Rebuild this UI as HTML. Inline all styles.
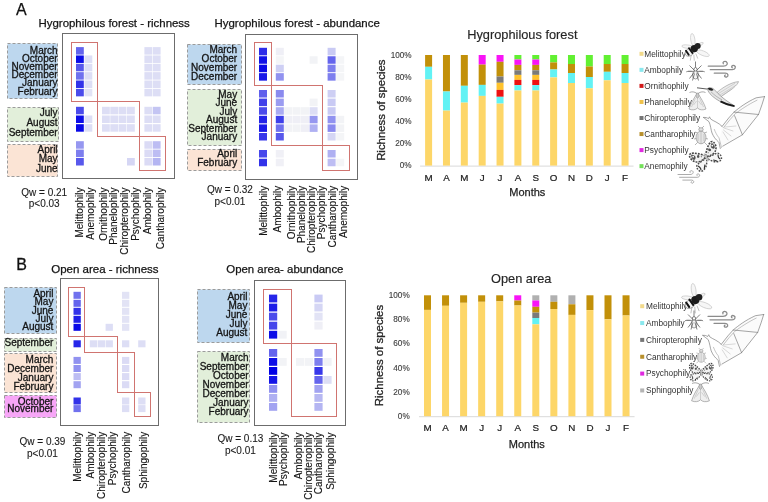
<!DOCTYPE html>
<html><head><meta charset="utf-8"><title>Pollination syndromes</title>
<style>html,body{margin:0;padding:0;background:#fff;} svg{display:block;}</style>
</head><body>
<svg width="768" height="502" viewBox="0 0 768 502" font-family="'Liberation Sans', Arial, sans-serif">
<rect width="768" height="502" fill="#fff"/>
<text x="16.0" y="15" font-size="16" text-anchor="start" fill="#111" stroke="#111" stroke-width="0.25" >A</text>
<text x="16.3" y="270" font-size="16" text-anchor="start" fill="#111" stroke="#111" stroke-width="0.3" >B</text>
<text x="38.5" y="27" font-size="11.45" text-anchor="start" fill="#141414" stroke="#141414" stroke-width="0.25" >Hygrophilous forest - richness</text>
<text x="214.5" y="27.2" font-size="11.45" text-anchor="start" fill="#141414" stroke="#141414" stroke-width="0.25" >Hygrophilous forest - abundance</text>
<text x="51.2" y="273" font-size="11.5" text-anchor="start" fill="#141414" stroke="#141414" stroke-width="0.25" >Open area - richness</text>
<text x="226.3" y="272.6" font-size="11.4" text-anchor="start" fill="#141414" stroke="#141414" stroke-width="0.25" >Open area- abundance</text>
<rect x="62.5" y="33.5" width="112.0" height="145.0" fill="#fff" stroke="#6c6c6c" stroke-width="1" />
<rect x="76" y="47.1" width="7.8" height="7.5" fill="rgb(100,100,237)" stroke="none" stroke-width="1" />
<rect x="144.4" y="47.1" width="7.8" height="7.5" fill="rgb(221,222,245)" stroke="none" stroke-width="1" />
<rect x="152.8" y="47.1" width="7.8" height="7.5" fill="rgb(221,222,245)" stroke="none" stroke-width="1" />
<rect x="76" y="55.45" width="7.8" height="7.5" fill="rgb(13,13,231)" stroke="none" stroke-width="1" />
<rect x="84.5" y="55.45" width="7.8" height="7.5" fill="rgb(221,222,245)" stroke="none" stroke-width="1" />
<rect x="144.4" y="55.45" width="7.8" height="7.5" fill="rgb(221,222,245)" stroke="none" stroke-width="1" />
<rect x="152.8" y="55.45" width="7.8" height="7.5" fill="rgb(221,222,245)" stroke="none" stroke-width="1" />
<rect x="76" y="63.8" width="7.8" height="7.5" fill="rgb(88,88,236)" stroke="none" stroke-width="1" />
<rect x="84.5" y="63.8" width="7.8" height="7.5" fill="rgb(221,222,245)" stroke="none" stroke-width="1" />
<rect x="144.4" y="63.8" width="7.8" height="7.5" fill="rgb(221,222,245)" stroke="none" stroke-width="1" />
<rect x="152.8" y="63.8" width="7.8" height="7.5" fill="rgb(221,222,245)" stroke="none" stroke-width="1" />
<rect x="76" y="72.15" width="7.8" height="7.5" fill="rgb(112,113,238)" stroke="none" stroke-width="1" />
<rect x="84.5" y="72.15" width="7.8" height="7.5" fill="rgb(221,222,245)" stroke="none" stroke-width="1" />
<rect x="144.4" y="72.15" width="7.8" height="7.5" fill="rgb(221,222,245)" stroke="none" stroke-width="1" />
<rect x="152.8" y="72.15" width="7.8" height="7.5" fill="rgb(221,222,245)" stroke="none" stroke-width="1" />
<rect x="76" y="80.5" width="7.8" height="7.5" fill="rgb(50,50,233)" stroke="none" stroke-width="1" />
<rect x="84.5" y="80.5" width="7.8" height="7.5" fill="rgb(221,222,245)" stroke="none" stroke-width="1" />
<rect x="144.4" y="80.5" width="7.8" height="7.5" fill="rgb(221,222,245)" stroke="none" stroke-width="1" />
<rect x="152.8" y="80.5" width="7.8" height="7.5" fill="rgb(221,222,245)" stroke="none" stroke-width="1" />
<rect x="76" y="88.85" width="7.8" height="7.5" fill="rgb(75,75,235)" stroke="none" stroke-width="1" />
<rect x="84.5" y="88.85" width="7.8" height="7.5" fill="rgb(226,227,245)" stroke="none" stroke-width="1" />
<rect x="144.4" y="88.85" width="7.8" height="7.5" fill="rgb(221,222,245)" stroke="none" stroke-width="1" />
<rect x="152.8" y="88.85" width="7.8" height="7.5" fill="rgb(221,222,245)" stroke="none" stroke-width="1" />
<rect x="76" y="106.8" width="7.8" height="7.5" fill="rgb(75,75,235)" stroke="none" stroke-width="1" />
<rect x="102" y="106.8" width="7.8" height="7.5" fill="rgb(221,222,245)" stroke="none" stroke-width="1" />
<rect x="110.3" y="106.8" width="7.8" height="7.5" fill="rgb(221,222,245)" stroke="none" stroke-width="1" />
<rect x="118.6" y="106.8" width="7.8" height="7.5" fill="rgb(221,222,245)" stroke="none" stroke-width="1" />
<rect x="127" y="106.8" width="7.8" height="7.5" fill="rgb(221,222,245)" stroke="none" stroke-width="1" />
<rect x="144.4" y="106.8" width="7.8" height="7.5" fill="rgb(221,222,245)" stroke="none" stroke-width="1" />
<rect x="152.8" y="106.8" width="7.8" height="7.5" fill="rgb(196,197,243)" stroke="none" stroke-width="1" />
<rect x="76" y="115.5" width="7.8" height="7.5" fill="rgb(13,13,231)" stroke="none" stroke-width="1" />
<rect x="84.5" y="115.5" width="7.8" height="7.5" fill="rgb(221,222,245)" stroke="none" stroke-width="1" />
<rect x="102" y="115.5" width="7.8" height="7.5" fill="rgb(221,222,245)" stroke="none" stroke-width="1" />
<rect x="110.3" y="115.5" width="7.8" height="7.5" fill="rgb(221,222,245)" stroke="none" stroke-width="1" />
<rect x="118.6" y="115.5" width="7.8" height="7.5" fill="rgb(221,222,245)" stroke="none" stroke-width="1" />
<rect x="127" y="115.5" width="7.8" height="7.5" fill="rgb(221,222,245)" stroke="none" stroke-width="1" />
<rect x="144.4" y="115.5" width="7.8" height="7.5" fill="rgb(221,222,245)" stroke="none" stroke-width="1" />
<rect x="152.8" y="115.5" width="7.8" height="7.5" fill="rgb(221,222,245)" stroke="none" stroke-width="1" />
<rect x="76" y="124.2" width="7.8" height="7.5" fill="rgb(8,8,231)" stroke="none" stroke-width="1" />
<rect x="84.5" y="124.2" width="7.8" height="7.5" fill="rgb(221,222,245)" stroke="none" stroke-width="1" />
<rect x="102" y="124.2" width="7.8" height="7.5" fill="rgb(221,222,245)" stroke="none" stroke-width="1" />
<rect x="110.3" y="124.2" width="7.8" height="7.5" fill="rgb(221,222,245)" stroke="none" stroke-width="1" />
<rect x="118.6" y="124.2" width="7.8" height="7.5" fill="rgb(221,222,245)" stroke="none" stroke-width="1" />
<rect x="127" y="124.2" width="7.8" height="7.5" fill="rgb(221,222,245)" stroke="none" stroke-width="1" />
<rect x="144.4" y="124.2" width="7.8" height="7.5" fill="rgb(221,222,245)" stroke="none" stroke-width="1" />
<rect x="152.8" y="124.2" width="7.8" height="7.5" fill="rgb(221,222,245)" stroke="none" stroke-width="1" />
<rect x="76" y="141.2" width="7.8" height="7.5" fill="rgb(150,151,240)" stroke="none" stroke-width="1" />
<rect x="144.4" y="141.2" width="7.8" height="7.5" fill="rgb(219,219,245)" stroke="none" stroke-width="1" />
<rect x="152.8" y="141.2" width="7.8" height="7.5" fill="rgb(189,189,243)" stroke="none" stroke-width="1" />
<rect x="76" y="149.6" width="7.8" height="7.5" fill="rgb(125,126,238)" stroke="none" stroke-width="1" />
<rect x="144.4" y="149.6" width="7.8" height="7.5" fill="rgb(219,219,245)" stroke="none" stroke-width="1" />
<rect x="152.8" y="149.6" width="7.8" height="7.5" fill="rgb(189,189,243)" stroke="none" stroke-width="1" />
<rect x="76" y="158.0" width="7.8" height="7.5" fill="rgb(88,88,236)" stroke="none" stroke-width="1" />
<rect x="127" y="158.0" width="7.8" height="7.5" fill="rgb(213,214,244)" stroke="none" stroke-width="1" />
<rect x="144.4" y="158.0" width="7.8" height="7.5" fill="rgb(219,219,245)" stroke="none" stroke-width="1" />
<rect x="152.8" y="158.0" width="7.8" height="7.5" fill="rgb(180,181,242)" stroke="none" stroke-width="1" />
<rect x="71.5" y="42.5" width="26.0" height="59.0" fill="none" stroke="#d07470" stroke-width="1" />
<rect x="97.5" y="101.5" width="42.0" height="35.0" fill="none" stroke="#d07470" stroke-width="1" />
<rect x="139.5" y="136.5" width="26.0" height="34.0" fill="none" stroke="#d07470" stroke-width="1" />
<rect x="7.5" y="43.5" width="50.0" height="55.0" fill="#bdd7ee" stroke="#9b9b9b" stroke-width="1" stroke-dasharray="3,2"/>
<text x="57.6" y="53.6" font-size="10" text-anchor="end" fill="#141414" stroke="#141414" stroke-width="0.3" >March</text>
<text x="57.6" y="61.8" font-size="10" text-anchor="end" fill="#141414" stroke="#141414" stroke-width="0.3" >October</text>
<text x="57.6" y="70.0" font-size="10" text-anchor="end" fill="#141414" stroke="#141414" stroke-width="0.3" >November</text>
<text x="57.6" y="78.2" font-size="10" text-anchor="end" fill="#141414" stroke="#141414" stroke-width="0.3" >December</text>
<text x="57.6" y="86.4" font-size="10" text-anchor="end" fill="#141414" stroke="#141414" stroke-width="0.3" >January</text>
<text x="57.6" y="94.6" font-size="10" text-anchor="end" fill="#141414" stroke="#141414" stroke-width="0.3" >February</text>
<rect x="7.5" y="107.5" width="51.0" height="34.0" fill="#e2efda" stroke="#9b9b9b" stroke-width="1" stroke-dasharray="3,2"/>
<text x="57.6" y="115.8" font-size="10" text-anchor="end" fill="#141414" stroke="#141414" stroke-width="0.3" >July</text>
<text x="57.6" y="125.8" font-size="10" text-anchor="end" fill="#141414" stroke="#141414" stroke-width="0.3" >August</text>
<text x="57.6" y="135.8" font-size="10" text-anchor="end" fill="#141414" stroke="#141414" stroke-width="0.3" >September</text>
<rect x="7.5" y="144.5" width="50.0" height="32.0" fill="#fbe4d5" stroke="#9b9b9b" stroke-width="1" stroke-dasharray="3,2"/>
<text x="57.6" y="152.9" font-size="10" text-anchor="end" fill="#141414" stroke="#141414" stroke-width="0.3" >April</text>
<text x="57.6" y="162.2" font-size="10" text-anchor="end" fill="#141414" stroke="#141414" stroke-width="0.3" >May</text>
<text x="57.6" y="171.5" font-size="10" text-anchor="end" fill="#141414" stroke="#141414" stroke-width="0.3" >June</text>
<text font-size="10" text-anchor="end" fill="#141414" stroke="#141414" stroke-width="0.12" transform="translate(83.1,187.5) rotate(-90)">Melittophily</text>
<text font-size="10" text-anchor="end" fill="#141414" stroke="#141414" stroke-width="0.12" transform="translate(94.4,187.5) rotate(-90)">Anemophily</text>
<text font-size="10" text-anchor="end" fill="#141414" stroke="#141414" stroke-width="0.12" transform="translate(107.1,187.5) rotate(-90)">Ornithophily</text>
<text font-size="10" text-anchor="end" fill="#141414" stroke="#141414" stroke-width="0.12" transform="translate(117.3,187.5) rotate(-90)">Phanelophily</text>
<text font-size="10" text-anchor="end" fill="#141414" stroke="#141414" stroke-width="0.12" transform="translate(128.1,187.5) rotate(-90)">Chiropterophily</text>
<text font-size="10" text-anchor="end" fill="#141414" stroke="#141414" stroke-width="0.12" transform="translate(138.5,187.5) rotate(-90)">Psychophily</text>
<text font-size="10" text-anchor="end" fill="#141414" stroke="#141414" stroke-width="0.12" transform="translate(151.3,187.5) rotate(-90)">Ambophily</text>
<text font-size="10" text-anchor="end" fill="#141414" stroke="#141414" stroke-width="0.12" transform="translate(163.8,187.5) rotate(-90)">Cantharophily</text>
<text x="44.2" y="195.5" font-size="10" text-anchor="middle" fill="#1a1a1a" stroke="#1a1a1a" stroke-width="0.1" >Qw = 0.21</text>
<text x="44.2" y="207.4" font-size="10" text-anchor="middle" fill="#1a1a1a" stroke="#1a1a1a" stroke-width="0.1" >p<0.03</text>
<rect x="245.5" y="34.5" width="112.0" height="145.0" fill="#fff" stroke="#6c6c6c" stroke-width="1" />
<rect x="259" y="47.8" width="8" height="7.5" fill="rgb(45,45,233)" stroke="none" stroke-width="1" />
<rect x="275.8" y="47.8" width="8" height="7.5" fill="rgb(239,239,246)" stroke="none" stroke-width="1" />
<rect x="327.6" y="47.8" width="8" height="7.5" fill="rgb(201,202,244)" stroke="none" stroke-width="1" />
<rect x="259" y="56.25" width="8" height="7.5" fill="rgb(17,18,231)" stroke="none" stroke-width="1" />
<rect x="275.8" y="56.25" width="8" height="7.5" fill="rgb(244,245,247)" stroke="none" stroke-width="1" />
<rect x="309.6" y="56.25" width="8" height="7.5" fill="rgb(242,243,246)" stroke="none" stroke-width="1" />
<rect x="327.6" y="56.25" width="8" height="7.5" fill="rgb(100,100,237)" stroke="none" stroke-width="1" />
<rect x="336.2" y="56.25" width="8" height="7.5" fill="rgb(244,245,247)" stroke="none" stroke-width="1" />
<rect x="259" y="64.7" width="8" height="7.5" fill="rgb(10,10,231)" stroke="none" stroke-width="1" />
<rect x="275.8" y="64.7" width="8" height="7.5" fill="rgb(206,207,244)" stroke="none" stroke-width="1" />
<rect x="327.6" y="64.7" width="8" height="7.5" fill="rgb(125,126,238)" stroke="none" stroke-width="1" />
<rect x="336.2" y="64.7" width="8" height="7.5" fill="rgb(244,245,247)" stroke="none" stroke-width="1" />
<rect x="259" y="73.15" width="8" height="7.5" fill="rgb(25,25,232)" stroke="none" stroke-width="1" />
<rect x="275.8" y="73.15" width="8" height="7.5" fill="rgb(145,146,240)" stroke="none" stroke-width="1" />
<rect x="327.6" y="73.15" width="8" height="7.5" fill="rgb(125,126,238)" stroke="none" stroke-width="1" />
<rect x="336.2" y="73.15" width="8" height="7.5" fill="rgb(244,245,247)" stroke="none" stroke-width="1" />
<rect x="259" y="90.0" width="8" height="7.5" fill="rgb(95,95,236)" stroke="none" stroke-width="1" />
<rect x="275.8" y="90.0" width="8" height="7.5" fill="rgb(138,138,239)" stroke="none" stroke-width="1" />
<rect x="327.6" y="90.0" width="8" height="7.5" fill="rgb(206,207,244)" stroke="none" stroke-width="1" />
<rect x="259" y="98.6" width="8" height="7.5" fill="rgb(65,65,234)" stroke="none" stroke-width="1" />
<rect x="275.8" y="98.6" width="8" height="7.5" fill="rgb(155,156,241)" stroke="none" stroke-width="1" />
<rect x="309.6" y="98.6" width="8" height="7.5" fill="rgb(242,243,246)" stroke="none" stroke-width="1" />
<rect x="327.6" y="98.6" width="8" height="7.5" fill="rgb(201,202,244)" stroke="none" stroke-width="1" />
<rect x="259" y="107.2" width="8" height="7.5" fill="rgb(75,75,235)" stroke="none" stroke-width="1" />
<rect x="275.8" y="107.2" width="8" height="7.5" fill="rgb(170,171,242)" stroke="none" stroke-width="1" />
<rect x="284.2" y="107.2" width="8" height="7.5" fill="rgb(242,243,246)" stroke="none" stroke-width="1" />
<rect x="292.6" y="107.2" width="8" height="7.5" fill="rgb(242,243,246)" stroke="none" stroke-width="1" />
<rect x="301" y="107.2" width="8" height="7.5" fill="rgb(242,243,246)" stroke="none" stroke-width="1" />
<rect x="309.6" y="107.2" width="8" height="7.5" fill="rgb(221,222,245)" stroke="none" stroke-width="1" />
<rect x="327.6" y="107.2" width="8" height="7.5" fill="rgb(201,202,244)" stroke="none" stroke-width="1" />
<rect x="259" y="115.8" width="8" height="7.5" fill="rgb(35,35,232)" stroke="none" stroke-width="1" />
<rect x="275.8" y="115.8" width="8" height="7.5" fill="rgb(62,63,234)" stroke="none" stroke-width="1" />
<rect x="284.2" y="115.8" width="8" height="7.5" fill="rgb(239,239,246)" stroke="none" stroke-width="1" />
<rect x="292.6" y="115.8" width="8" height="7.5" fill="rgb(239,239,246)" stroke="none" stroke-width="1" />
<rect x="301" y="115.8" width="8" height="7.5" fill="rgb(239,239,246)" stroke="none" stroke-width="1" />
<rect x="309.6" y="115.8" width="8" height="7.5" fill="rgb(150,151,240)" stroke="none" stroke-width="1" />
<rect x="327.6" y="115.8" width="8" height="7.5" fill="rgb(145,146,240)" stroke="none" stroke-width="1" />
<rect x="336.2" y="115.8" width="8" height="7.5" fill="rgb(242,243,246)" stroke="none" stroke-width="1" />
<rect x="259" y="124.4" width="8" height="7.5" fill="rgb(25,25,232)" stroke="none" stroke-width="1" />
<rect x="275.8" y="124.4" width="8" height="7.5" fill="rgb(112,113,238)" stroke="none" stroke-width="1" />
<rect x="284.2" y="124.4" width="8" height="7.5" fill="rgb(242,243,246)" stroke="none" stroke-width="1" />
<rect x="292.6" y="124.4" width="8" height="7.5" fill="rgb(242,243,246)" stroke="none" stroke-width="1" />
<rect x="301" y="124.4" width="8" height="7.5" fill="rgb(239,239,246)" stroke="none" stroke-width="1" />
<rect x="309.6" y="124.4" width="8" height="7.5" fill="rgb(175,176,242)" stroke="none" stroke-width="1" />
<rect x="327.6" y="124.4" width="8" height="7.5" fill="rgb(138,138,239)" stroke="none" stroke-width="1" />
<rect x="336.2" y="124.4" width="8" height="7.5" fill="rgb(242,243,246)" stroke="none" stroke-width="1" />
<rect x="259" y="133.0" width="8" height="7.5" fill="rgb(55,55,234)" stroke="none" stroke-width="1" />
<rect x="275.8" y="133.0" width="8" height="7.5" fill="rgb(88,88,236)" stroke="none" stroke-width="1" />
<rect x="327.6" y="133.0" width="8" height="7.5" fill="rgb(213,214,244)" stroke="none" stroke-width="1" />
<rect x="336.2" y="133.0" width="8" height="7.5" fill="rgb(244,245,247)" stroke="none" stroke-width="1" />
<rect x="259" y="150.0" width="8" height="7.5" fill="rgb(70,70,235)" stroke="none" stroke-width="1" />
<rect x="275.8" y="150.0" width="8" height="7.5" fill="rgb(240,240,246)" stroke="none" stroke-width="1" />
<rect x="327.6" y="150.0" width="8" height="7.5" fill="rgb(175,176,242)" stroke="none" stroke-width="1" />
<rect x="259" y="158.75" width="8" height="7.5" fill="rgb(50,50,233)" stroke="none" stroke-width="1" />
<rect x="275.8" y="158.75" width="8" height="7.5" fill="rgb(240,240,246)" stroke="none" stroke-width="1" />
<rect x="327.6" y="158.75" width="8" height="7.5" fill="rgb(189,189,243)" stroke="none" stroke-width="1" />
<rect x="336.2" y="158.75" width="8" height="7.5" fill="rgb(244,245,247)" stroke="none" stroke-width="1" />
<rect x="254.5" y="42.5" width="17.0" height="43.0" fill="none" stroke="#d07470" stroke-width="1" />
<rect x="271.5" y="85.5" width="51.0" height="60.0" fill="none" stroke="#d07470" stroke-width="1" />
<rect x="322.5" y="145.5" width="27.0" height="25.0" fill="none" stroke="#d07470" stroke-width="1" />
<rect x="187.5" y="44.5" width="54.0" height="40.0" fill="#bdd7ee" stroke="#9b9b9b" stroke-width="1" stroke-dasharray="3,2"/>
<text x="237.2" y="53.3" font-size="10" text-anchor="end" fill="#141414" stroke="#141414" stroke-width="0.3" >March</text>
<text x="237.2" y="62.05" font-size="10" text-anchor="end" fill="#141414" stroke="#141414" stroke-width="0.3" >October</text>
<text x="237.2" y="70.8" font-size="10" text-anchor="end" fill="#141414" stroke="#141414" stroke-width="0.3" >November</text>
<text x="237.2" y="79.55" font-size="10" text-anchor="end" fill="#141414" stroke="#141414" stroke-width="0.3" >December</text>
<rect x="187.5" y="89.5" width="54.0" height="56.0" fill="#e2efda" stroke="#9b9b9b" stroke-width="1" stroke-dasharray="3,2"/>
<text x="237.2" y="97.5" font-size="10" text-anchor="end" fill="#141414" stroke="#141414" stroke-width="0.3" >May</text>
<text x="237.2" y="106.0" font-size="10" text-anchor="end" fill="#141414" stroke="#141414" stroke-width="0.3" >June</text>
<text x="237.2" y="114.5" font-size="10" text-anchor="end" fill="#141414" stroke="#141414" stroke-width="0.3" >July</text>
<text x="237.2" y="123.0" font-size="10" text-anchor="end" fill="#141414" stroke="#141414" stroke-width="0.3" >August</text>
<text x="237.2" y="131.5" font-size="10" text-anchor="end" fill="#141414" stroke="#141414" stroke-width="0.3" >September</text>
<text x="237.2" y="140.0" font-size="10" text-anchor="end" fill="#141414" stroke="#141414" stroke-width="0.3" >January</text>
<rect x="187.5" y="149.5" width="54.0" height="21.0" fill="#fbe4d5" stroke="#9b9b9b" stroke-width="1" stroke-dasharray="3,2"/>
<text x="237.2" y="157.0" font-size="10" text-anchor="end" fill="#141414" stroke="#141414" stroke-width="0.3" >April</text>
<text x="237.2" y="165.5" font-size="10" text-anchor="end" fill="#141414" stroke="#141414" stroke-width="0.3" >February</text>
<text font-size="10" text-anchor="end" fill="#141414" stroke="#141414" stroke-width="0.12" transform="translate(267.3,185.8) rotate(-90)">Melittophily</text>
<text font-size="10" text-anchor="end" fill="#141414" stroke="#141414" stroke-width="0.12" transform="translate(281.4,185.8) rotate(-90)">Ambophily</text>
<text font-size="10" text-anchor="end" fill="#141414" stroke="#141414" stroke-width="0.12" transform="translate(294.5,185.8) rotate(-90)">Ornithophily</text>
<text font-size="10" text-anchor="end" fill="#141414" stroke="#141414" stroke-width="0.12" transform="translate(304.5,185.8) rotate(-90)">Phanelophily</text>
<text font-size="10" text-anchor="end" fill="#141414" stroke="#141414" stroke-width="0.12" transform="translate(315.1,185.8) rotate(-90)">Chiropterophily</text>
<text font-size="10" text-anchor="end" fill="#141414" stroke="#141414" stroke-width="0.12" transform="translate(325.1,185.8) rotate(-90)">Psychophily</text>
<text font-size="10" text-anchor="end" fill="#141414" stroke="#141414" stroke-width="0.12" transform="translate(336,185.8) rotate(-90)">Cantharophily</text>
<text font-size="10" text-anchor="end" fill="#141414" stroke="#141414" stroke-width="0.12" transform="translate(346.8,185.8) rotate(-90)">Anemophily</text>
<text x="230" y="193.2" font-size="10" text-anchor="middle" fill="#1a1a1a" stroke="#1a1a1a" stroke-width="0.1" >Qw = 0.32</text>
<text x="230" y="205.1" font-size="10" text-anchor="middle" fill="#1a1a1a" stroke="#1a1a1a" stroke-width="0.1" >p<0.01</text>
<rect x="60.5" y="278.5" width="98.0" height="147.0" fill="#fff" stroke="#6c6c6c" stroke-width="1" />
<rect x="73.5" y="291.8" width="7.3" height="7.0" fill="rgb(112,113,238)" stroke="none" stroke-width="1" />
<rect x="122" y="291.8" width="7.3" height="7.0" fill="rgb(226,227,245)" stroke="none" stroke-width="1" />
<rect x="73.5" y="299.8" width="7.3" height="7.0" fill="rgb(100,100,237)" stroke="none" stroke-width="1" />
<rect x="122" y="299.8" width="7.3" height="7.0" fill="rgb(226,227,245)" stroke="none" stroke-width="1" />
<rect x="73.5" y="307.8" width="7.3" height="7.0" fill="rgb(50,50,233)" stroke="none" stroke-width="1" />
<rect x="122" y="307.8" width="7.3" height="7.0" fill="rgb(226,227,245)" stroke="none" stroke-width="1" />
<rect x="73.5" y="315.8" width="7.3" height="7.0" fill="rgb(30,30,232)" stroke="none" stroke-width="1" />
<rect x="122" y="315.8" width="7.3" height="7.0" fill="rgb(226,227,245)" stroke="none" stroke-width="1" />
<rect x="73.5" y="323.8" width="7.3" height="7.0" fill="rgb(8,8,231)" stroke="none" stroke-width="1" />
<rect x="105.6" y="323.8" width="7.3" height="7.0" fill="rgb(221,222,245)" stroke="none" stroke-width="1" />
<rect x="122" y="323.8" width="7.3" height="7.0" fill="rgb(226,227,245)" stroke="none" stroke-width="1" />
<rect x="73.5" y="340.3" width="7.3" height="7.0" fill="rgb(38,38,233)" stroke="none" stroke-width="1" />
<rect x="89.8" y="340.3" width="7.3" height="7.0" fill="rgb(221,222,245)" stroke="none" stroke-width="1" />
<rect x="97.7" y="340.3" width="7.3" height="7.0" fill="rgb(221,222,245)" stroke="none" stroke-width="1" />
<rect x="105.6" y="340.3" width="7.3" height="7.0" fill="rgb(221,222,245)" stroke="none" stroke-width="1" />
<rect x="122" y="340.3" width="7.3" height="7.0" fill="rgb(221,222,245)" stroke="none" stroke-width="1" />
<rect x="138.2" y="340.3" width="7.3" height="7.0" fill="rgb(221,222,245)" stroke="none" stroke-width="1" />
<rect x="73.5" y="356.9" width="7.3" height="7.0" fill="rgb(145,146,240)" stroke="none" stroke-width="1" />
<rect x="122" y="356.9" width="7.3" height="7.0" fill="rgb(219,219,245)" stroke="none" stroke-width="1" />
<rect x="73.5" y="365.0" width="7.3" height="7.0" fill="rgb(145,146,240)" stroke="none" stroke-width="1" />
<rect x="122" y="365.0" width="7.3" height="7.0" fill="rgb(219,219,245)" stroke="none" stroke-width="1" />
<rect x="73.5" y="373.1" width="7.3" height="7.0" fill="rgb(189,189,243)" stroke="none" stroke-width="1" />
<rect x="122" y="373.1" width="7.3" height="7.0" fill="rgb(219,219,245)" stroke="none" stroke-width="1" />
<rect x="73.5" y="381.2" width="7.3" height="7.0" fill="rgb(162,163,241)" stroke="none" stroke-width="1" />
<rect x="122" y="381.2" width="7.3" height="7.0" fill="rgb(219,219,245)" stroke="none" stroke-width="1" />
<rect x="73.5" y="397.5" width="7.3" height="7.0" fill="rgb(50,50,233)" stroke="none" stroke-width="1" />
<rect x="122" y="397.5" width="7.3" height="7.0" fill="rgb(221,222,245)" stroke="none" stroke-width="1" />
<rect x="138.2" y="397.5" width="7.3" height="7.0" fill="rgb(221,222,245)" stroke="none" stroke-width="1" />
<rect x="73.5" y="405.1" width="7.3" height="7.0" fill="rgb(112,113,238)" stroke="none" stroke-width="1" />
<rect x="122" y="405.1" width="7.3" height="7.0" fill="rgb(221,222,245)" stroke="none" stroke-width="1" />
<rect x="138.2" y="405.1" width="7.3" height="7.0" fill="rgb(221,222,245)" stroke="none" stroke-width="1" />
<rect x="68.5" y="287.5" width="16.0" height="49.0" fill="none" stroke="#d07470" stroke-width="1" />
<rect x="84.5" y="336.5" width="33.0" height="16.0" fill="none" stroke="#d07470" stroke-width="1" />
<rect x="117.5" y="352.5" width="17.0" height="40.0" fill="none" stroke="#d07470" stroke-width="1" />
<rect x="134.5" y="392.5" width="16.0" height="24.0" fill="none" stroke="#d07470" stroke-width="1" />
<rect x="4.5" y="287.5" width="52.0" height="46.0" fill="#bdd7ee" stroke="#9b9b9b" stroke-width="1" stroke-dasharray="3,2"/>
<text x="53.4" y="297.0" font-size="10" text-anchor="end" fill="#141414" stroke="#141414" stroke-width="0.3" >April</text>
<text x="53.4" y="305.25" font-size="10" text-anchor="end" fill="#141414" stroke="#141414" stroke-width="0.3" >May</text>
<text x="53.4" y="313.5" font-size="10" text-anchor="end" fill="#141414" stroke="#141414" stroke-width="0.3" >June</text>
<text x="53.4" y="321.75" font-size="10" text-anchor="end" fill="#141414" stroke="#141414" stroke-width="0.3" >July</text>
<text x="53.4" y="330.0" font-size="10" text-anchor="end" fill="#141414" stroke="#141414" stroke-width="0.3" >August</text>
<rect x="4.5" y="338.5" width="52.0" height="13.0" fill="#e2efda" stroke="#9b9b9b" stroke-width="1" stroke-dasharray="3,2"/>
<text x="53.4" y="346.3" font-size="10" text-anchor="end" fill="#141414" stroke="#141414" stroke-width="0.3" >September</text>
<rect x="4.5" y="353.5" width="52.0" height="39.0" fill="#fbe4d5" stroke="#9b9b9b" stroke-width="1" stroke-dasharray="3,2"/>
<text x="53.4" y="362.5" font-size="10" text-anchor="end" fill="#141414" stroke="#141414" stroke-width="0.3" >March</text>
<text x="53.4" y="371.5" font-size="10" text-anchor="end" fill="#141414" stroke="#141414" stroke-width="0.3" >December</text>
<text x="53.4" y="380.5" font-size="10" text-anchor="end" fill="#141414" stroke="#141414" stroke-width="0.3" >January</text>
<text x="53.4" y="389.5" font-size="10" text-anchor="end" fill="#141414" stroke="#141414" stroke-width="0.3" >February</text>
<rect x="4.5" y="395.5" width="52.0" height="22.0" fill="#f7a6f7" stroke="#9b9b9b" stroke-width="1" stroke-dasharray="3,2"/>
<text x="53.4" y="404.5" font-size="10" text-anchor="end" fill="#141414" stroke="#141414" stroke-width="0.3" >October</text>
<text x="53.4" y="412.0" font-size="10" text-anchor="end" fill="#141414" stroke="#141414" stroke-width="0.3" >November</text>
<text font-size="10" text-anchor="end" fill="#141414" stroke="#141414" stroke-width="0.12" transform="translate(81.4,431.8) rotate(-90)">Melittophily</text>
<text font-size="10" text-anchor="end" fill="#141414" stroke="#141414" stroke-width="0.12" transform="translate(94.3,431.8) rotate(-90)">Ambophily</text>
<text font-size="10" text-anchor="end" fill="#141414" stroke="#141414" stroke-width="0.12" transform="translate(105.1,431.8) rotate(-90)">Chiropterophily</text>
<text font-size="10" text-anchor="end" fill="#141414" stroke="#141414" stroke-width="0.12" transform="translate(115.5,431.8) rotate(-90)">Psychophily</text>
<text font-size="10" text-anchor="end" fill="#141414" stroke="#141414" stroke-width="0.12" transform="translate(130.1,431.8) rotate(-90)">Cantharophily</text>
<text font-size="10" text-anchor="end" fill="#141414" stroke="#141414" stroke-width="0.12" transform="translate(147,431.8) rotate(-90)">Sphingophily</text>
<text x="42.5" y="445.2" font-size="10" text-anchor="middle" fill="#1a1a1a" stroke="#1a1a1a" stroke-width="0.1" >Qw = 0.39</text>
<text x="42.5" y="457.1" font-size="10" text-anchor="middle" fill="#1a1a1a" stroke="#1a1a1a" stroke-width="0.1" >p<0.01</text>
<rect x="254.5" y="280.5" width="91.0" height="145.0" fill="#fff" stroke="#6c6c6c" stroke-width="1" />
<rect x="269" y="294.6" width="8.2" height="7.8" fill="rgb(38,38,233)" stroke="none" stroke-width="1" />
<rect x="314.4" y="294.6" width="8.2" height="7.8" fill="rgb(201,202,244)" stroke="none" stroke-width="1" />
<rect x="269" y="303.65" width="8.2" height="7.8" fill="rgb(30,30,232)" stroke="none" stroke-width="1" />
<rect x="314.4" y="303.65" width="8.2" height="7.8" fill="rgb(213,214,244)" stroke="none" stroke-width="1" />
<rect x="269" y="312.7" width="8.2" height="7.8" fill="rgb(75,75,235)" stroke="none" stroke-width="1" />
<rect x="314.4" y="312.7" width="8.2" height="7.8" fill="rgb(226,227,245)" stroke="none" stroke-width="1" />
<rect x="269" y="321.75" width="8.2" height="7.8" fill="rgb(70,70,235)" stroke="none" stroke-width="1" />
<rect x="314.4" y="321.75" width="8.2" height="7.8" fill="rgb(239,239,246)" stroke="none" stroke-width="1" />
<rect x="269" y="330.8" width="8.2" height="7.8" fill="rgb(13,13,231)" stroke="none" stroke-width="1" />
<rect x="278.5" y="330.8" width="8.2" height="7.8" fill="rgb(241,242,246)" stroke="none" stroke-width="1" />
<rect x="269" y="349.0" width="8.2" height="7.8" fill="rgb(100,100,237)" stroke="none" stroke-width="1" />
<rect x="314.4" y="349.0" width="8.2" height="7.8" fill="rgb(145,146,240)" stroke="none" stroke-width="1" />
<rect x="269" y="358.0" width="8.2" height="7.8" fill="rgb(13,13,231)" stroke="none" stroke-width="1" />
<rect x="278.5" y="358.0" width="8.2" height="7.8" fill="rgb(242,243,246)" stroke="none" stroke-width="1" />
<rect x="296" y="358.0" width="8.2" height="7.8" fill="rgb(242,243,246)" stroke="none" stroke-width="1" />
<rect x="304.8" y="358.0" width="8.2" height="7.8" fill="rgb(242,243,246)" stroke="none" stroke-width="1" />
<rect x="314.4" y="358.0" width="8.2" height="7.8" fill="rgb(125,126,238)" stroke="none" stroke-width="1" />
<rect x="323.4" y="358.0" width="8.2" height="7.8" fill="rgb(241,242,246)" stroke="none" stroke-width="1" />
<rect x="269" y="367.0" width="8.2" height="7.8" fill="rgb(0,0,230)" stroke="none" stroke-width="1" />
<rect x="314.4" y="367.0" width="8.2" height="7.8" fill="rgb(55,55,234)" stroke="none" stroke-width="1" />
<rect x="269" y="376.0" width="8.2" height="7.8" fill="rgb(20,20,231)" stroke="none" stroke-width="1" />
<rect x="314.4" y="376.0" width="8.2" height="7.8" fill="rgb(100,100,237)" stroke="none" stroke-width="1" />
<rect x="323.4" y="376.0" width="8.2" height="7.8" fill="rgb(221,222,245)" stroke="none" stroke-width="1" />
<rect x="269" y="385.0" width="8.2" height="7.8" fill="rgb(145,146,240)" stroke="none" stroke-width="1" />
<rect x="314.4" y="385.0" width="8.2" height="7.8" fill="rgb(162,163,241)" stroke="none" stroke-width="1" />
<rect x="269" y="394.0" width="8.2" height="7.8" fill="rgb(175,176,242)" stroke="none" stroke-width="1" />
<rect x="314.4" y="394.0" width="8.2" height="7.8" fill="rgb(183,184,242)" stroke="none" stroke-width="1" />
<rect x="269" y="403.0" width="8.2" height="7.8" fill="rgb(162,163,241)" stroke="none" stroke-width="1" />
<rect x="314.4" y="403.0" width="8.2" height="7.8" fill="rgb(180,181,242)" stroke="none" stroke-width="1" />
<rect x="263.5" y="289.5" width="28.0" height="54.0" fill="none" stroke="#d07470" stroke-width="1" />
<rect x="291.5" y="343.5" width="45.0" height="73.0" fill="none" stroke="#d07470" stroke-width="1" />
<rect x="197.5" y="289.5" width="52.0" height="53.0" fill="#bdd7ee" stroke="#9b9b9b" stroke-width="1" stroke-dasharray="3,2"/>
<text x="247.4" y="299.5" font-size="10" text-anchor="end" fill="#141414" stroke="#141414" stroke-width="0.3" >April</text>
<text x="247.4" y="308.5" font-size="10" text-anchor="end" fill="#141414" stroke="#141414" stroke-width="0.3" >May</text>
<text x="247.4" y="317.5" font-size="10" text-anchor="end" fill="#141414" stroke="#141414" stroke-width="0.3" >June</text>
<text x="247.4" y="326.5" font-size="10" text-anchor="end" fill="#141414" stroke="#141414" stroke-width="0.3" >July</text>
<text x="247.4" y="335.5" font-size="10" text-anchor="end" fill="#141414" stroke="#141414" stroke-width="0.3" >August</text>
<rect x="197.5" y="351.5" width="52.0" height="71.0" fill="#e2efda" stroke="#9b9b9b" stroke-width="1" stroke-dasharray="3,2"/>
<text x="248.6" y="360.5" font-size="10" text-anchor="end" fill="#141414" stroke="#141414" stroke-width="0.3" >March</text>
<text x="248.6" y="369.5" font-size="10" text-anchor="end" fill="#141414" stroke="#141414" stroke-width="0.3" >September</text>
<text x="248.6" y="378.5" font-size="10" text-anchor="end" fill="#141414" stroke="#141414" stroke-width="0.3" >October</text>
<text x="248.6" y="387.5" font-size="10" text-anchor="end" fill="#141414" stroke="#141414" stroke-width="0.3" >November</text>
<text x="248.6" y="396.5" font-size="10" text-anchor="end" fill="#141414" stroke="#141414" stroke-width="0.3" >December</text>
<text x="248.6" y="405.5" font-size="10" text-anchor="end" fill="#141414" stroke="#141414" stroke-width="0.3" >January</text>
<text x="248.6" y="414.5" font-size="10" text-anchor="end" fill="#141414" stroke="#141414" stroke-width="0.3" >February</text>
<text font-size="10" text-anchor="end" fill="#141414" stroke="#141414" stroke-width="0.12" transform="translate(276.5,432.6) rotate(-90)">Melittophily</text>
<text font-size="10" text-anchor="end" fill="#141414" stroke="#141414" stroke-width="0.12" transform="translate(287,432.6) rotate(-90)">Psychophily</text>
<text font-size="10" text-anchor="end" fill="#141414" stroke="#141414" stroke-width="0.12" transform="translate(301.5,432.6) rotate(-90)">Ambophily</text>
<text font-size="10" text-anchor="end" fill="#141414" stroke="#141414" stroke-width="0.12" transform="translate(312,432.6) rotate(-90)">Chiropterophily</text>
<text font-size="10" text-anchor="end" fill="#141414" stroke="#141414" stroke-width="0.12" transform="translate(321.5,432.6) rotate(-90)">Cantharophily</text>
<text font-size="10" text-anchor="end" fill="#141414" stroke="#141414" stroke-width="0.12" transform="translate(333.6,432.6) rotate(-90)">Sphingophily</text>
<text x="240.4" y="441.7" font-size="10" text-anchor="middle" fill="#1a1a1a" stroke="#1a1a1a" stroke-width="0.1" >Qw = 0.13</text>
<text x="240.4" y="453.6" font-size="10" text-anchor="middle" fill="#1a1a1a" stroke="#1a1a1a" stroke-width="0.1" >p<0.01</text>
<text x="411.6" y="168.4" font-size="8.2" text-anchor="end" fill="#3c3c3c" stroke="#3c3c3c" stroke-width="0.12" >0%</text>
<text x="411.6" y="146.28" font-size="8.2" text-anchor="end" fill="#3c3c3c" stroke="#3c3c3c" stroke-width="0.12" >20%</text>
<text x="411.6" y="124.16" font-size="8.2" text-anchor="end" fill="#3c3c3c" stroke="#3c3c3c" stroke-width="0.12" >40%</text>
<text x="411.6" y="102.04" font-size="8.2" text-anchor="end" fill="#3c3c3c" stroke="#3c3c3c" stroke-width="0.12" >60%</text>
<text x="411.6" y="79.92" font-size="8.2" text-anchor="end" fill="#3c3c3c" stroke="#3c3c3c" stroke-width="0.12" >80%</text>
<text x="411.6" y="57.8" font-size="8.2" text-anchor="end" fill="#3c3c3c" stroke="#3c3c3c" stroke-width="0.12" >100%</text>
<line x1="420.1" y1="166.1" x2="633.56" y2="166.1" stroke="#d9d9d9" stroke-width="1"/>
<rect x="425.1" y="55" width="7" height="11.8" fill="#c29009" stroke="none" stroke-width="1" />
<rect x="425.1" y="66.8" width="7" height="12.7" fill="#62f2f4" stroke="none" stroke-width="1" />
<rect x="425.1" y="79.5" width="7" height="86.1" fill="#fdd668" stroke="none" stroke-width="1" />
<rect x="442.96" y="55" width="7" height="36.5" fill="#c29009" stroke="none" stroke-width="1" />
<rect x="442.96" y="91.5" width="7" height="19.1" fill="#62f2f4" stroke="none" stroke-width="1" />
<rect x="442.96" y="110.6" width="7" height="55.0" fill="#fdd668" stroke="none" stroke-width="1" />
<rect x="460.82" y="55" width="7" height="30.8" fill="#c29009" stroke="none" stroke-width="1" />
<rect x="460.82" y="85.8" width="7" height="16.8" fill="#62f2f4" stroke="none" stroke-width="1" />
<rect x="460.82" y="102.6" width="7" height="63.0" fill="#fdd668" stroke="none" stroke-width="1" />
<rect x="478.68" y="55" width="7" height="9.6" fill="#f814f6" stroke="none" stroke-width="1" />
<rect x="478.68" y="64.6" width="7" height="20.3" fill="#c29009" stroke="none" stroke-width="1" />
<rect x="478.68" y="84.9" width="7" height="11.0" fill="#62f2f4" stroke="none" stroke-width="1" />
<rect x="478.68" y="95.9" width="7" height="69.7" fill="#fdd668" stroke="none" stroke-width="1" />
<rect x="496.54" y="55" width="7" height="6.8" fill="#f814f6" stroke="none" stroke-width="1" />
<rect x="496.54" y="61.8" width="7" height="14.7" fill="#c29009" stroke="none" stroke-width="1" />
<rect x="496.54" y="76.5" width="7" height="6.3" fill="#7a7a7a" stroke="none" stroke-width="1" />
<rect x="496.54" y="82.8" width="7" height="7.1" fill="#fec22c" stroke="none" stroke-width="1" />
<rect x="496.54" y="89.9" width="7" height="6.9" fill="#ee1111" stroke="none" stroke-width="1" />
<rect x="496.54" y="96.8" width="7" height="6.8" fill="#62f2f4" stroke="none" stroke-width="1" />
<rect x="496.54" y="103.6" width="7" height="62.0" fill="#fdd668" stroke="none" stroke-width="1" />
<rect x="514.4" y="55" width="7" height="4.5" fill="#62f032" stroke="none" stroke-width="1" />
<rect x="514.4" y="59.5" width="7" height="5.4" fill="#f814f6" stroke="none" stroke-width="1" />
<rect x="514.4" y="64.9" width="7" height="5.4" fill="#c29009" stroke="none" stroke-width="1" />
<rect x="514.4" y="70.3" width="7" height="4.6" fill="#7a7a7a" stroke="none" stroke-width="1" />
<rect x="514.4" y="74.9" width="7" height="5.0" fill="#fec22c" stroke="none" stroke-width="1" />
<rect x="514.4" y="79.9" width="7" height="5.2" fill="#ee1111" stroke="none" stroke-width="1" />
<rect x="514.4" y="85.1" width="7" height="5.4" fill="#62f2f4" stroke="none" stroke-width="1" />
<rect x="514.4" y="90.5" width="7" height="75.1" fill="#fdd668" stroke="none" stroke-width="1" />
<rect x="532.26" y="55" width="7" height="4.5" fill="#62f032" stroke="none" stroke-width="1" />
<rect x="532.26" y="59.5" width="7" height="5.4" fill="#f814f6" stroke="none" stroke-width="1" />
<rect x="532.26" y="64.9" width="7" height="5.4" fill="#c29009" stroke="none" stroke-width="1" />
<rect x="532.26" y="70.3" width="7" height="4.6" fill="#7a7a7a" stroke="none" stroke-width="1" />
<rect x="532.26" y="74.9" width="7" height="5.0" fill="#fec22c" stroke="none" stroke-width="1" />
<rect x="532.26" y="79.9" width="7" height="5.2" fill="#ee1111" stroke="none" stroke-width="1" />
<rect x="532.26" y="85.1" width="7" height="5.4" fill="#62f2f4" stroke="none" stroke-width="1" />
<rect x="532.26" y="90.5" width="7" height="75.1" fill="#fdd668" stroke="none" stroke-width="1" />
<rect x="550.12" y="55" width="7" height="7.4" fill="#62f032" stroke="none" stroke-width="1" />
<rect x="550.12" y="62.4" width="7" height="7.1" fill="#c29009" stroke="none" stroke-width="1" />
<rect x="550.12" y="69.5" width="7" height="7.9" fill="#62f2f4" stroke="none" stroke-width="1" />
<rect x="550.12" y="77.4" width="7" height="88.2" fill="#fdd668" stroke="none" stroke-width="1" />
<rect x="567.98" y="55" width="7" height="9" fill="#62f032" stroke="none" stroke-width="1" />
<rect x="567.98" y="64" width="7" height="9" fill="#c29009" stroke="none" stroke-width="1" />
<rect x="567.98" y="73" width="7" height="10" fill="#62f2f4" stroke="none" stroke-width="1" />
<rect x="567.98" y="83" width="7" height="82.6" fill="#fdd668" stroke="none" stroke-width="1" />
<rect x="585.84" y="55" width="7" height="11.5" fill="#62f032" stroke="none" stroke-width="1" />
<rect x="585.84" y="66.5" width="7" height="10.5" fill="#c29009" stroke="none" stroke-width="1" />
<rect x="585.84" y="77" width="7" height="11.3" fill="#62f2f4" stroke="none" stroke-width="1" />
<rect x="585.84" y="88.3" width="7" height="77.3" fill="#fdd668" stroke="none" stroke-width="1" />
<rect x="603.7" y="55" width="7" height="9" fill="#62f032" stroke="none" stroke-width="1" />
<rect x="603.7" y="64" width="7" height="7.8" fill="#c29009" stroke="none" stroke-width="1" />
<rect x="603.7" y="71.8" width="7" height="8.5" fill="#62f2f4" stroke="none" stroke-width="1" />
<rect x="603.7" y="80.3" width="7" height="85.3" fill="#fdd668" stroke="none" stroke-width="1" />
<rect x="621.56" y="55" width="7" height="9" fill="#62f032" stroke="none" stroke-width="1" />
<rect x="621.56" y="64" width="7" height="9" fill="#c29009" stroke="none" stroke-width="1" />
<rect x="621.56" y="73" width="7" height="10" fill="#62f2f4" stroke="none" stroke-width="1" />
<rect x="621.56" y="83" width="7" height="82.6" fill="#fdd668" stroke="none" stroke-width="1" />
<text x="428.6" y="181.2" font-size="9.8" text-anchor="middle" fill="#1e1e1e" stroke="#1e1e1e" stroke-width="0.22" >M</text>
<text x="446.46" y="181.2" font-size="9.8" text-anchor="middle" fill="#1e1e1e" stroke="#1e1e1e" stroke-width="0.22" >A</text>
<text x="464.32" y="181.2" font-size="9.8" text-anchor="middle" fill="#1e1e1e" stroke="#1e1e1e" stroke-width="0.22" >M</text>
<text x="482.18" y="181.2" font-size="9.8" text-anchor="middle" fill="#1e1e1e" stroke="#1e1e1e" stroke-width="0.22" >J</text>
<text x="500.04" y="181.2" font-size="9.8" text-anchor="middle" fill="#1e1e1e" stroke="#1e1e1e" stroke-width="0.22" >J</text>
<text x="517.9" y="181.2" font-size="9.8" text-anchor="middle" fill="#1e1e1e" stroke="#1e1e1e" stroke-width="0.22" >A</text>
<text x="535.76" y="181.2" font-size="9.8" text-anchor="middle" fill="#1e1e1e" stroke="#1e1e1e" stroke-width="0.22" >S</text>
<text x="553.62" y="181.2" font-size="9.8" text-anchor="middle" fill="#1e1e1e" stroke="#1e1e1e" stroke-width="0.22" >O</text>
<text x="571.48" y="181.2" font-size="9.8" text-anchor="middle" fill="#1e1e1e" stroke="#1e1e1e" stroke-width="0.22" >N</text>
<text x="589.34" y="181.2" font-size="9.8" text-anchor="middle" fill="#1e1e1e" stroke="#1e1e1e" stroke-width="0.22" >D</text>
<text x="607.2" y="181.2" font-size="9.8" text-anchor="middle" fill="#1e1e1e" stroke="#1e1e1e" stroke-width="0.22" >J</text>
<text x="625.06" y="181.2" font-size="9.8" text-anchor="middle" fill="#1e1e1e" stroke="#1e1e1e" stroke-width="0.22" >F</text>
<text x="527.3" y="195.6" font-size="11" text-anchor="middle" fill="#1e1e1e" stroke="#1e1e1e" stroke-width="0.25" >Months</text>
<text x="467.2" y="38.8" font-size="12.8" text-anchor="start" fill="#262626" stroke="#262626" stroke-width="0.15" >Hygrophilous forest</text>
<text font-size="11.4" text-anchor="middle" fill="#262626" stroke="#262626" stroke-width="0.3" transform="translate(385.1,110.2) rotate(-90)">Richness of species</text>
<rect x="639.5" y="51.8" width="4" height="4" fill="#f2da8c" stroke="none" stroke-width="1" />
<text x="644.3" y="57.1" font-size="8.3" text-anchor="start" fill="#333" >Melittophily</text>
<rect x="639.5" y="67.85" width="4" height="4" fill="#8ae8ee" stroke="none" stroke-width="1" />
<text x="644.3" y="73.15" font-size="8.3" text-anchor="start" fill="#333" >Ambophily</text>
<rect x="639.5" y="83.9" width="4" height="4" fill="#d21818" stroke="none" stroke-width="1" />
<text x="644.3" y="89.2" font-size="8.3" text-anchor="start" fill="#333" >Ornithophily</text>
<rect x="639.5" y="99.95" width="4" height="4" fill="#f0c24a" stroke="none" stroke-width="1" />
<text x="644.3" y="105.25" font-size="8.3" text-anchor="start" fill="#333" >Phanelophily</text>
<rect x="639.5" y="116.0" width="4" height="4" fill="#767676" stroke="none" stroke-width="1" />
<text x="644.3" y="121.3" font-size="8.3" text-anchor="start" fill="#333" >Chiropterophily</text>
<rect x="639.5" y="132.05" width="4" height="4" fill="#b8902c" stroke="none" stroke-width="1" />
<text x="644.3" y="137.35" font-size="8.3" text-anchor="start" fill="#333" >Cantharophily</text>
<rect x="639.5" y="148.1" width="4" height="4" fill="#e02ae0" stroke="none" stroke-width="1" />
<text x="644.3" y="153.4" font-size="8.3" text-anchor="start" fill="#333" >Psychophily</text>
<rect x="639.5" y="164.15" width="4" height="4" fill="#74e05a" stroke="none" stroke-width="1" />
<text x="644.3" y="169.45" font-size="8.3" text-anchor="start" fill="#333" >Anemophily</text>
<text x="409.7" y="419.0" font-size="8.2" text-anchor="end" fill="#3c3c3c" stroke="#3c3c3c" stroke-width="0.12" >0%</text>
<text x="409.7" y="394.82" font-size="8.2" text-anchor="end" fill="#3c3c3c" stroke="#3c3c3c" stroke-width="0.12" >20%</text>
<text x="409.7" y="370.64" font-size="8.2" text-anchor="end" fill="#3c3c3c" stroke="#3c3c3c" stroke-width="0.12" >40%</text>
<text x="409.7" y="346.46" font-size="8.2" text-anchor="end" fill="#3c3c3c" stroke="#3c3c3c" stroke-width="0.12" >60%</text>
<text x="409.7" y="322.28" font-size="8.2" text-anchor="end" fill="#3c3c3c" stroke="#3c3c3c" stroke-width="0.12" >80%</text>
<text x="409.7" y="298.1" font-size="8.2" text-anchor="end" fill="#3c3c3c" stroke="#3c3c3c" stroke-width="0.12" >100%</text>
<line x1="419" y1="416.7" x2="634.55" y2="416.7" stroke="#d9d9d9" stroke-width="1"/>
<rect x="424.0" y="295.3" width="7" height="14.6" fill="#c29009" stroke="none" stroke-width="1" />
<rect x="424.0" y="309.9" width="7" height="106.3" fill="#fdd668" stroke="none" stroke-width="1" />
<rect x="442.05" y="295.3" width="7" height="10.5" fill="#c29009" stroke="none" stroke-width="1" />
<rect x="442.05" y="305.8" width="7" height="110.4" fill="#fdd668" stroke="none" stroke-width="1" />
<rect x="460.1" y="295.3" width="7" height="7.5" fill="#c29009" stroke="none" stroke-width="1" />
<rect x="460.1" y="302.8" width="7" height="113.4" fill="#fdd668" stroke="none" stroke-width="1" />
<rect x="478.15" y="295.3" width="7" height="6.5" fill="#c29009" stroke="none" stroke-width="1" />
<rect x="478.15" y="301.8" width="7" height="114.4" fill="#fdd668" stroke="none" stroke-width="1" />
<rect x="496.2" y="295.3" width="7" height="6.1" fill="#c29009" stroke="none" stroke-width="1" />
<rect x="496.2" y="301.4" width="7" height="114.8" fill="#fdd668" stroke="none" stroke-width="1" />
<rect x="514.25" y="295.3" width="7" height="5.2" fill="#f814f6" stroke="none" stroke-width="1" />
<rect x="514.25" y="300.5" width="7" height="5.0" fill="#c29009" stroke="none" stroke-width="1" />
<rect x="514.25" y="305.5" width="7" height="110.7" fill="#fdd668" stroke="none" stroke-width="1" />
<rect x="532.3" y="295.3" width="7" height="5.2" fill="#b0b0b0" stroke="none" stroke-width="1" />
<rect x="532.3" y="300.5" width="7" height="6.3" fill="#f814f6" stroke="none" stroke-width="1" />
<rect x="532.3" y="306.8" width="7" height="5.8" fill="#c29009" stroke="none" stroke-width="1" />
<rect x="532.3" y="312.6" width="7" height="5.4" fill="#7a7a7a" stroke="none" stroke-width="1" />
<rect x="532.3" y="318" width="7" height="6.3" fill="#62f2f4" stroke="none" stroke-width="1" />
<rect x="532.3" y="324.3" width="7" height="91.9" fill="#fdd668" stroke="none" stroke-width="1" />
<rect x="550.35" y="295.3" width="7" height="6.5" fill="#b0b0b0" stroke="none" stroke-width="1" />
<rect x="550.35" y="301.8" width="7" height="7.2" fill="#c29009" stroke="none" stroke-width="1" />
<rect x="550.35" y="309" width="7" height="107.2" fill="#fdd668" stroke="none" stroke-width="1" />
<rect x="568.4" y="295.3" width="7" height="9.0" fill="#b0b0b0" stroke="none" stroke-width="1" />
<rect x="568.4" y="304.3" width="7" height="10.6" fill="#c29009" stroke="none" stroke-width="1" />
<rect x="568.4" y="314.9" width="7" height="101.3" fill="#fdd668" stroke="none" stroke-width="1" />
<rect x="586.45" y="295.3" width="7" height="14.8" fill="#c29009" stroke="none" stroke-width="1" />
<rect x="586.45" y="310.1" width="7" height="106.1" fill="#fdd668" stroke="none" stroke-width="1" />
<rect x="604.5" y="295.3" width="7" height="24.0" fill="#c29009" stroke="none" stroke-width="1" />
<rect x="604.5" y="319.3" width="7" height="96.9" fill="#fdd668" stroke="none" stroke-width="1" />
<rect x="622.55" y="295.3" width="7" height="20.2" fill="#c29009" stroke="none" stroke-width="1" />
<rect x="622.55" y="315.5" width="7" height="100.7" fill="#fdd668" stroke="none" stroke-width="1" />
<text x="427.5" y="431.4" font-size="9.8" text-anchor="middle" fill="#1e1e1e" stroke="#1e1e1e" stroke-width="0.22" >M</text>
<text x="445.55" y="431.4" font-size="9.8" text-anchor="middle" fill="#1e1e1e" stroke="#1e1e1e" stroke-width="0.22" >A</text>
<text x="463.6" y="431.4" font-size="9.8" text-anchor="middle" fill="#1e1e1e" stroke="#1e1e1e" stroke-width="0.22" >M</text>
<text x="481.65" y="431.4" font-size="9.8" text-anchor="middle" fill="#1e1e1e" stroke="#1e1e1e" stroke-width="0.22" >J</text>
<text x="499.7" y="431.4" font-size="9.8" text-anchor="middle" fill="#1e1e1e" stroke="#1e1e1e" stroke-width="0.22" >J</text>
<text x="517.75" y="431.4" font-size="9.8" text-anchor="middle" fill="#1e1e1e" stroke="#1e1e1e" stroke-width="0.22" >A</text>
<text x="535.8" y="431.4" font-size="9.8" text-anchor="middle" fill="#1e1e1e" stroke="#1e1e1e" stroke-width="0.22" >S</text>
<text x="553.85" y="431.4" font-size="9.8" text-anchor="middle" fill="#1e1e1e" stroke="#1e1e1e" stroke-width="0.22" >O</text>
<text x="571.9" y="431.4" font-size="9.8" text-anchor="middle" fill="#1e1e1e" stroke="#1e1e1e" stroke-width="0.22" >N</text>
<text x="589.95" y="431.4" font-size="9.8" text-anchor="middle" fill="#1e1e1e" stroke="#1e1e1e" stroke-width="0.22" >D</text>
<text x="608.0" y="431.4" font-size="9.8" text-anchor="middle" fill="#1e1e1e" stroke="#1e1e1e" stroke-width="0.22" >J</text>
<text x="626.05" y="431.4" font-size="9.8" text-anchor="middle" fill="#1e1e1e" stroke="#1e1e1e" stroke-width="0.22" >F</text>
<text x="526.8" y="447.5" font-size="11" text-anchor="middle" fill="#1e1e1e" stroke="#1e1e1e" stroke-width="0.25" >Months</text>
<text x="491" y="283.2" font-size="12.8" text-anchor="start" fill="#262626" stroke="#262626" stroke-width="0.15" >Open area</text>
<text font-size="11.4" text-anchor="middle" fill="#262626" stroke="#262626" stroke-width="0.3" transform="translate(383.3,355.5) rotate(-90)">Richness of species</text>
<rect x="640.2" y="304.2" width="4" height="4" fill="#f2da8c" stroke="none" stroke-width="1" />
<text x="646.0" y="309.0" font-size="8.3" text-anchor="start" fill="#333" >Melittophily</text>
<rect x="640.2" y="321.05" width="4" height="4" fill="#8ae8ee" stroke="none" stroke-width="1" />
<text x="646.0" y="325.85" font-size="8.3" text-anchor="start" fill="#333" >Ambophily</text>
<rect x="640.2" y="337.9" width="4" height="4" fill="#767676" stroke="none" stroke-width="1" />
<text x="646.0" y="342.7" font-size="8.3" text-anchor="start" fill="#333" >Chiropterophily</text>
<rect x="640.2" y="354.75" width="4" height="4" fill="#b8902c" stroke="none" stroke-width="1" />
<text x="646.0" y="359.55" font-size="8.3" text-anchor="start" fill="#333" >Cantharophily</text>
<rect x="640.2" y="371.6" width="4" height="4" fill="#e02ae0" stroke="none" stroke-width="1" />
<text x="646.0" y="376.4" font-size="8.3" text-anchor="start" fill="#333" >Psychophily</text>
<rect x="640.2" y="388.45" width="4" height="4" fill="#b4b4b4" stroke="none" stroke-width="1" />
<text x="646.0" y="393.25" font-size="8.3" text-anchor="start" fill="#333" >Sphingophily</text>
<g transform="translate(694.3,48.6) scale(1.0)">
<g fill="#f6f6f6" stroke="#bdbdbd" stroke-width="0.55">
<ellipse cx="-1.5" cy="-9" rx="2.1" ry="6.2" transform="rotate(-8 -1.5 -9)"/>
<ellipse cx="-7" cy="-2" rx="5.6" ry="1.7" transform="rotate(6 -7 -2)"/>
<ellipse cx="8.6" cy="4.6" rx="6.8" ry="2.3" transform="rotate(22 8.6 4.6)"/>
<ellipse cx="5.6" cy="-4" rx="3.8" ry="1.3" transform="rotate(-30 5.6 -4)"/>
</g>
<path d="M-3,6 L-4,12 M-0.5,6 L0,12 M1.5,5 L3.5,10" stroke="#a0a0a0" stroke-width="0.6" fill="none"/>
<ellipse cx="-4.6" cy="3.5" rx="5" ry="3.6" transform="rotate(-37 -4.6 3.5)" fill="#f6f6f6" stroke="#666" stroke-width="0.5"/>
<path d="M-5.3,-0.4 L-1.9,4.4 M-8.3,2.2 L-5.6,6.2" stroke="#141414" stroke-width="1.9" fill="none" stroke-linecap="round"/>
<circle cx="0" cy="0" r="3.7" fill="#1b1b1b"/>
<circle cx="3.4" cy="-2.6" r="3" fill="#202020"/>
</g>
<g transform="translate(695.5,71.5)" stroke="#4a4a4a" fill="none" stroke-width="0.7">
<path d="M0,-10 L0,-4"/>
<ellipse cx="0" cy="-2" rx="1.6" ry="2" fill="#fff"/>
<ellipse cx="0" cy="3.5" rx="3" ry="4" fill="#f6f6f6" stroke="#777"/>
<path d="M-1,-1 L-6,-6 M1,-1 L6,-6 M-1.5,0 L-9,0 M1.5,0 L9,0 M-1.5,1 L-6,7 M1.5,1 L6,7 M-1,2 L-3,9 M1,2 L3,9"/>
<path d="M-2,0 C-6,-2 -8,-1 -9,1 M2,0 C6,-2 8,-1 9,1" stroke="#bbb" stroke-width="0.6"/>
</g>
<g transform="translate(708.3,61.2) scale(1.0)" stroke="#8c8c8c" fill="none" stroke-width="1.3" stroke-linecap="round">
<path d="M0,5 L15,5 C19,5 20,2 18,0.5 C16,-0.5 14,1 15,2.5"/>
<path d="M2,8.5 L24,8.5 C27,8.5 28,5.5 26,4.5 C24,3.5 22.5,5.5 24,6.5"/>
<path d="M6,12 L17,12 C20,12 20.5,15 18.5,15.8 C16.5,16.3 15.5,14.5 17,13.8"/>
</g>
<g transform="translate(697,87.8)">
<path d="M0,0 L10.5,1.3" stroke="#333" stroke-width="0.8"/>
<path d="M18,6.5 C21,3.5 25,0.5 29,-1.8 C33,-4 37,-5.8 41.5,-6.2 C41,-4.2 39,-2.2 36,0.5 C32,3.5 27,6.8 23,9.5 Z" fill="#ececec" stroke="#8c8c8c" stroke-width="0.55"/>
<path d="M21,6 L38,-4.5 M23,7.2 L39,-2.6 M25,7.8 L35,1.2" stroke="#b2b2b2" stroke-width="0.5"/>
<path d="M10.5,0.6 C13,-0.8 16,0 18,2.5 C21,6 25,9.5 29,12.5 C32,14.5 35,16.5 37.5,18.3 C34,18.6 30,17.2 26,15.2 C21,12.8 16,9.5 13,6 C11.5,4 10.5,2.5 10.5,0.6 Z" fill="#e6e6e6" stroke="#707070" stroke-width="0.55"/>
<path d="M14,4 C17,7 21,10 25,12" stroke="#a8a8a8" stroke-width="0.8" fill="none"/>
<path d="M10.5,0.6 C12.5,-0.6 15,-0.2 16.5,2.2 C15,3.4 12.5,3 10.5,0.6 Z" fill="#262626"/>
<path d="M23.5,13.6 C28,16 32.5,17.6 37.5,18.3" stroke="#1a1a1a" stroke-width="1.8" fill="none"/>
</g>
<g transform="translate(697.5,93) scale(1.0)">
<path d="M0,0 C-3,4 -7,11 -8.5,16 C-5,17.5 -2,17 0,15 C2,17 5,17.5 8.5,16 C7,11 3,4 0,0 Z" fill="#efefef" stroke="#8a8a8a" stroke-width="0.6"/>
<path d="M0,1 L0,15 M-2,5 L-6,14 M2,5 L6,14 M-1,8 L-4,12 M1,8 L4,12" stroke="#b0b0b0" stroke-width="0.5" fill="none"/>
<path d="M-0.5,0.5 C-3,-1.5 -6,-1.5 -8,-0.5 M0.5,0.5 C3,-1.5 6,-1.5 8,-0.5" stroke="#555" stroke-width="0.5" fill="none"/>
<ellipse cx="0" cy="2.5" rx="1.5" ry="2.5" fill="#ccc" stroke="#777" stroke-width="0.4"/>
</g>
<g transform="translate(0,0)" fill="none" stroke="#6a6a6a" stroke-width="0.6" stroke-linejoin="round" stroke-linecap="round">
<path d="M722.1,126.4 L728.7,118 L734,112.1 C739,107.9 746,102.5 756.2,97.8 L764.5,96.6 L762.1,104.3 L758.5,114.5 L742.4,134.8 L722.7,146.2 L719,142.6 Z" fill="#fbfbfb" stroke="none"/>
<path d="M722.1,126.4 L728.7,118 L734,112.1 C739,107.9 746,102.5 756.2,97.8 L764.5,96.6"/>
<path d="M723.6,127.6 L730,119.6 L735.4,113.6 C741,109.5 748,104.6 757,100.2" stroke="#8a8a8a" stroke-width="0.5"/>
<path d="M764.5,96.6 L762.1,104.3 L758.5,114.5 L742.4,134.8 L722.7,146.2"/>
<path d="M734,112.1 L758.5,114.5 M734.6,115.7 L742.4,134.8"/>
<path d="M724,128 L733,131 M723.5,130 L731,136 M723,132 L728,140 M725,127 L736,126" stroke="#b4b4b4" stroke-width="0.5"/>
<path d="M703.6,117.5 C705.5,117.2 707,117.6 708.4,118.7 L709.5,116.8 L710.6,119 C712,120 714,121 716,122 C718.5,123.3 720.5,124.8 722.1,126.4"/>
<path d="M703.6,117.5 C705,118.6 707,120.2 709,121.7 C710.5,125 711,130 712,133 C713.5,136.5 715,138.5 716.7,140.2 C718,141.5 719,142.2 719,142.6 L720.3,148.5"/>
<path d="M714.3,129.4 C715.5,132.5 717,135.5 719,137.8 L721.5,147.5" stroke="#8a8a8a" stroke-width="0.5"/>
</g>
<g transform="translate(701,134) scale(1.0)" stroke="#7a7a7a" stroke-width="0.55">
<path d="M-3,-1 L-6,-2 M3,-1 L6,-2 M-3,4 L-7,5 M3,4 L7,5 M-3,8 L-6,11 M3,8 L6,11 M-1,-6 L-3,-8 M1,-6 L3,-8" fill="none"/>
<ellipse cx="0" cy="-4.5" rx="2.2" ry="1.8" fill="#e2e2e2"/>
<ellipse cx="0" cy="3.5" rx="5" ry="6.3" fill="#e6e6e6"/>
<path d="M0,-2.5 L0,9.5 M-3,0 L-3,7 M3,0 L3,7" stroke="#aaa" fill="none"/>
</g>
<g transform="translate(706.3,157.3) rotate(-30) scale(1.15)">
<g transform="scale(-1,1)">
<path d="M0,-1.5 C-3,-5 -7,-9 -10,-9.6 C-12,-9.9 -12.7,-7.6 -12.2,-5 C-11.7,-2.5 -10,-0.5 -7,0.4 C-4,1 -1.5,0 0,-1 Z" fill="#f0f0f0" stroke="#484848" stroke-width="1.4" stroke-dasharray="1.6,1"/>
<path d="M-10.5,-8.5 C-8,-7 -7,-5 -9,-3.5 C-10.5,-2.5 -11.5,-4.5 -11,-6.5 Z M-5,-5.5 C-4,-4 -5,-2.5 -6.5,-3 C-7.5,-4 -6.5,-5.5 -5,-5.5 Z" fill="#505050"/>
<circle cx="-9.6" cy="-6.2" r="0.8" fill="#fff"/><circle cx="-8.4" cy="-1.6" r="0.7" fill="#fff"/><circle cx="-3.4" cy="-2.6" r="0.6" fill="#888"/>
<path d="M0,0.5 C-3,1 -7,1 -10,1.6 C-12,2.6 -12.2,6 -10.6,8 C-8.6,9.6 -5,8 -3,5.6 C-1.5,3.6 -0.5,2 0,0.5 Z" fill="#f6f6f6" stroke="#4a4a4a" stroke-width="1.2" stroke-dasharray="1.5,1.1"/>
<path d="M-10,3 C-9,5 -8.6,6.4 -9.8,7.4 M-6.5,7.8 C-5.5,6.5 -5,5.5 -4,5" stroke="#333" stroke-width="1" fill="none"/>
</g>
<g transform="scale(1,1)">
<path d="M0,-1.5 C-3,-5 -7,-9 -10,-9.6 C-12,-9.9 -12.7,-7.6 -12.2,-5 C-11.7,-2.5 -10,-0.5 -7,0.4 C-4,1 -1.5,0 0,-1 Z" fill="#f0f0f0" stroke="#484848" stroke-width="1.4" stroke-dasharray="1.6,1"/>
<path d="M-10.5,-8.5 C-8,-7 -7,-5 -9,-3.5 C-10.5,-2.5 -11.5,-4.5 -11,-6.5 Z M-5,-5.5 C-4,-4 -5,-2.5 -6.5,-3 C-7.5,-4 -6.5,-5.5 -5,-5.5 Z" fill="#505050"/>
<circle cx="-9.6" cy="-6.2" r="0.8" fill="#fff"/><circle cx="-8.4" cy="-1.6" r="0.7" fill="#fff"/><circle cx="-3.4" cy="-2.6" r="0.6" fill="#888"/>
<path d="M0,0.5 C-3,1 -7,1 -10,1.6 C-12,2.6 -12.2,6 -10.6,8 C-8.6,9.6 -5,8 -3,5.6 C-1.5,3.6 -0.5,2 0,0.5 Z" fill="#f6f6f6" stroke="#4a4a4a" stroke-width="1.2" stroke-dasharray="1.5,1.1"/>
<path d="M-10,3 C-9,5 -8.6,6.4 -9.8,7.4 M-6.5,7.8 C-5.5,6.5 -5,5.5 -4,5" stroke="#333" stroke-width="1" fill="none"/>
</g>
<ellipse cx="0" cy="0" rx="0.9" ry="4" fill="#bdbdbd"/>
</g>
<g transform="translate(678,170.5) scale(0.8)" stroke="#a0a0a0" fill="none" stroke-width="1.1" stroke-linecap="round">
<path d="M0,5 L15,5 C19,5 20,2 18,0.5 C16,-0.5 14,1 15,2.5"/>
<path d="M2,8.5 L24,8.5 C27,8.5 28,5.5 26,4.5 C24,3.5 22.5,5.5 24,6.5"/>
<path d="M6,12 L17,12 C20,12 20.5,15 18.5,15.8 C16.5,16.3 15.5,14.5 17,13.8"/>
</g>
<g transform="translate(695.3,300.1) scale(1.1)">
<g fill="#f6f6f6" stroke="#bdbdbd" stroke-width="0.55">
<ellipse cx="-1.5" cy="-9" rx="2.1" ry="6.2" transform="rotate(-8 -1.5 -9)"/>
<ellipse cx="-7" cy="-2" rx="5.6" ry="1.7" transform="rotate(6 -7 -2)"/>
<ellipse cx="8.6" cy="4.6" rx="6.8" ry="2.3" transform="rotate(22 8.6 4.6)"/>
<ellipse cx="5.6" cy="-4" rx="3.8" ry="1.3" transform="rotate(-30 5.6 -4)"/>
</g>
<path d="M-3,6 L-4,12 M-0.5,6 L0,12 M1.5,5 L3.5,10" stroke="#a0a0a0" stroke-width="0.6" fill="none"/>
<ellipse cx="-4.6" cy="3.5" rx="5" ry="3.6" transform="rotate(-37 -4.6 3.5)" fill="#f6f6f6" stroke="#666" stroke-width="0.5"/>
<path d="M-5.3,-0.4 L-1.9,4.4 M-8.3,2.2 L-5.6,6.2" stroke="#141414" stroke-width="1.9" fill="none" stroke-linecap="round"/>
<circle cx="0" cy="0" r="3.7" fill="#1b1b1b"/>
<circle cx="3.4" cy="-2.6" r="3" fill="#202020"/>
</g>
<g transform="translate(694,320.5)" stroke="#4a4a4a" fill="none" stroke-width="0.7">
<path d="M0,-10 L0,-4"/>
<ellipse cx="0" cy="-2" rx="1.6" ry="2" fill="#fff"/>
<ellipse cx="0" cy="3.5" rx="3" ry="4" fill="#f6f6f6" stroke="#777"/>
<path d="M-1,-1 L-6,-6 M1,-1 L6,-6 M-1.5,0 L-9,0 M1.5,0 L9,0 M-1.5,1 L-6,7 M1.5,1 L6,7 M-1,2 L-3,9 M1,2 L3,9"/>
<path d="M-2,0 C-6,-2 -8,-1 -9,1 M2,0 C6,-2 8,-1 9,1" stroke="#bbb" stroke-width="0.6"/>
</g>
<g transform="translate(708,311.3) scale(1.0)" stroke="#8c8c8c" fill="none" stroke-width="1.3" stroke-linecap="round">
<path d="M0,5 L15,5 C19,5 20,2 18,0.5 C16,-0.5 14,1 15,2.5"/>
<path d="M2,8.5 L24,8.5 C27,8.5 28,5.5 26,4.5 C24,3.5 22.5,5.5 24,6.5"/>
<path d="M6,12 L17,12 C20,12 20.5,15 18.5,15.8 C16.5,16.3 15.5,14.5 17,13.8"/>
</g>
<g transform="translate(-0.8,217.9)" fill="none" stroke="#6a6a6a" stroke-width="0.6" stroke-linejoin="round" stroke-linecap="round">
<path d="M722.1,126.4 L728.7,118 L734,112.1 C739,107.9 746,102.5 756.2,97.8 L764.5,96.6 L762.1,104.3 L758.5,114.5 L742.4,134.8 L722.7,146.2 L719,142.6 Z" fill="#fbfbfb" stroke="none"/>
<path d="M722.1,126.4 L728.7,118 L734,112.1 C739,107.9 746,102.5 756.2,97.8 L764.5,96.6"/>
<path d="M723.6,127.6 L730,119.6 L735.4,113.6 C741,109.5 748,104.6 757,100.2" stroke="#8a8a8a" stroke-width="0.5"/>
<path d="M764.5,96.6 L762.1,104.3 L758.5,114.5 L742.4,134.8 L722.7,146.2"/>
<path d="M734,112.1 L758.5,114.5 M734.6,115.7 L742.4,134.8"/>
<path d="M724,128 L733,131 M723.5,130 L731,136 M723,132 L728,140 M725,127 L736,126" stroke="#b4b4b4" stroke-width="0.5"/>
<path d="M703.6,117.5 C705.5,117.2 707,117.6 708.4,118.7 L709.5,116.8 L710.6,119 C712,120 714,121 716,122 C718.5,123.3 720.5,124.8 722.1,126.4"/>
<path d="M703.6,117.5 C705,118.6 707,120.2 709,121.7 C710.5,125 711,130 712,133 C713.5,136.5 715,138.5 716.7,140.2 C718,141.5 719,142.2 719,142.6 L720.3,148.5"/>
<path d="M714.3,129.4 C715.5,132.5 717,135.5 719,137.8 L721.5,147.5" stroke="#8a8a8a" stroke-width="0.5"/>
</g>
<g transform="translate(701.2,354.5) scale(0.8)" stroke="#7a7a7a" stroke-width="0.55">
<path d="M-3,-1 L-6,-2 M3,-1 L6,-2 M-3,4 L-7,5 M3,4 L7,5 M-3,8 L-6,11 M3,8 L6,11 M-1,-6 L-3,-8 M1,-6 L3,-8" fill="none"/>
<ellipse cx="0" cy="-4.5" rx="2.2" ry="1.8" fill="#e2e2e2"/>
<ellipse cx="0" cy="3.5" rx="5" ry="6.3" fill="#e6e6e6"/>
<path d="M0,-2.5 L0,9.5 M-3,0 L-3,7 M3,0 L3,7" stroke="#aaa" fill="none"/>
</g>
<g transform="translate(701.3,372.6) rotate(0) scale(0.95)">
<g transform="scale(-1,1)">
<path d="M0,-1.5 C-3,-5 -7,-9 -10,-9.6 C-12,-9.9 -12.7,-7.6 -12.2,-5 C-11.7,-2.5 -10,-0.5 -7,0.4 C-4,1 -1.5,0 0,-1 Z" fill="#f0f0f0" stroke="#484848" stroke-width="1.4" stroke-dasharray="1.6,1"/>
<path d="M-10.5,-8.5 C-8,-7 -7,-5 -9,-3.5 C-10.5,-2.5 -11.5,-4.5 -11,-6.5 Z M-5,-5.5 C-4,-4 -5,-2.5 -6.5,-3 C-7.5,-4 -6.5,-5.5 -5,-5.5 Z" fill="#505050"/>
<circle cx="-9.6" cy="-6.2" r="0.8" fill="#fff"/><circle cx="-8.4" cy="-1.6" r="0.7" fill="#fff"/><circle cx="-3.4" cy="-2.6" r="0.6" fill="#888"/>
<path d="M0,0.5 C-3,1 -7,1 -10,1.6 C-12,2.6 -12.2,6 -10.6,8 C-8.6,9.6 -5,8 -3,5.6 C-1.5,3.6 -0.5,2 0,0.5 Z" fill="#f6f6f6" stroke="#4a4a4a" stroke-width="1.2" stroke-dasharray="1.5,1.1"/>
<path d="M-10,3 C-9,5 -8.6,6.4 -9.8,7.4 M-6.5,7.8 C-5.5,6.5 -5,5.5 -4,5" stroke="#333" stroke-width="1" fill="none"/>
</g>
<g transform="scale(1,1)">
<path d="M0,-1.5 C-3,-5 -7,-9 -10,-9.6 C-12,-9.9 -12.7,-7.6 -12.2,-5 C-11.7,-2.5 -10,-0.5 -7,0.4 C-4,1 -1.5,0 0,-1 Z" fill="#f0f0f0" stroke="#484848" stroke-width="1.4" stroke-dasharray="1.6,1"/>
<path d="M-10.5,-8.5 C-8,-7 -7,-5 -9,-3.5 C-10.5,-2.5 -11.5,-4.5 -11,-6.5 Z M-5,-5.5 C-4,-4 -5,-2.5 -6.5,-3 C-7.5,-4 -6.5,-5.5 -5,-5.5 Z" fill="#505050"/>
<circle cx="-9.6" cy="-6.2" r="0.8" fill="#fff"/><circle cx="-8.4" cy="-1.6" r="0.7" fill="#fff"/><circle cx="-3.4" cy="-2.6" r="0.6" fill="#888"/>
<path d="M0,0.5 C-3,1 -7,1 -10,1.6 C-12,2.6 -12.2,6 -10.6,8 C-8.6,9.6 -5,8 -3,5.6 C-1.5,3.6 -0.5,2 0,0.5 Z" fill="#f6f6f6" stroke="#4a4a4a" stroke-width="1.2" stroke-dasharray="1.5,1.1"/>
<path d="M-10,3 C-9,5 -8.6,6.4 -9.8,7.4 M-6.5,7.8 C-5.5,6.5 -5,5.5 -4,5" stroke="#333" stroke-width="1" fill="none"/>
</g>
<ellipse cx="0" cy="0" rx="0.9" ry="4" fill="#bdbdbd"/>
</g>
<g transform="translate(700.5,384) scale(1.05)">
<path d="M0,0 C-3,4 -7,11 -8.5,16 C-5,17.5 -2,17 0,15 C2,17 5,17.5 8.5,16 C7,11 3,4 0,0 Z" fill="#efefef" stroke="#8a8a8a" stroke-width="0.6"/>
<path d="M0,1 L0,15 M-2,5 L-6,14 M2,5 L6,14 M-1,8 L-4,12 M1,8 L4,12" stroke="#b0b0b0" stroke-width="0.5" fill="none"/>
<path d="M-0.5,0.5 C-3,-1.5 -6,-1.5 -8,-0.5 M0.5,0.5 C3,-1.5 6,-1.5 8,-0.5" stroke="#555" stroke-width="0.5" fill="none"/>
<ellipse cx="0" cy="2.5" rx="1.5" ry="2.5" fill="#ccc" stroke="#777" stroke-width="0.4"/>
</g>
</svg>
</body></html>
